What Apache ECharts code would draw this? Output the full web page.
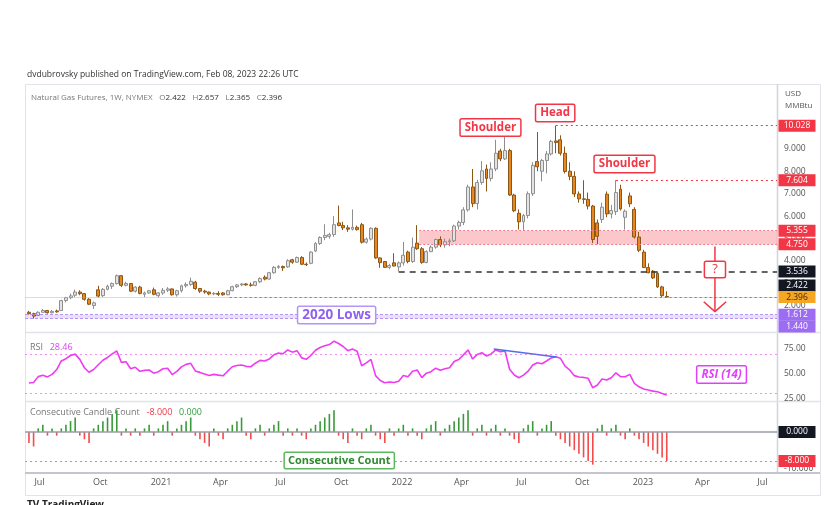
<!DOCTYPE html>
<html><head><meta charset="utf-8">
<script src="https://cdn.jsdelivr.net/npm/echarts@6/dist/echarts.min.js"></script>
<style>html,body{margin:0;padding:0;background:#fff}#c{width:831px;height:505px}</style>
</head><body><div id="c"></div>
<script>
// ---------- data ----------
const firstWeek = '2020-06-15';
const opens = [1.72,1.66,1.58,1.72,1.80,1.70,1.78,1.80,2.24,2.37,2.48,2.62,2.55,2.30,2.02,2.72,2.46,2.74,2.88,3.00,
3.35,2.92,3.00,2.66,2.84,2.52,2.58,2.72,2.46,2.58,2.70,2.76,2.50,2.68,2.90,2.96,3.06,2.78,2.66,2.62,
2.54,2.56,2.58,2.50,2.68,2.86,2.94,2.98,2.94,2.92,3.08,3.28,3.20,3.48,3.72,3.76,3.74,4.06,3.95,4.16,
3.86,3.90,4.45,4.78,5.05,5.10,5.18,5.70,5.58,5.48,5.42,5.50,5.62,4.84,4.98,5.46,4.14,3.98,3.72,3.92,
3.74,3.92,4.40,3.98,4.80,4.55,3.94,4.42,4.62,4.96,4.72,4.86,4.90,5.56,5.72,6.28,7.30,6.56,7.50,8.10,
7.68,8.10,8.90,8.55,8.92,6.94,6.13,5.75,6.03,7.00,8.43,8.00,8.48,8.77,9.35,9.40,8.80,8.00,7.77,6.99,
6.77,6.75,6.45,5.70,5.85,6.98,6.10,6.20,7.20,5.95,6.90,6.30,5.07,4.40,3.71,3.55,3.45,2.85,2.422];
const highs = [1.78,1.70,1.76,1.86,1.82,1.82,1.84,2.28,2.41,2.55,2.73,2.70,2.58,2.35,2.20,2.90,2.80,2.95,3.05,3.40,
3.38,3.08,3.02,2.88,2.90,2.64,2.72,2.82,2.62,2.80,2.84,2.78,2.72,2.95,3.05,3.26,3.12,2.80,2.72,2.64,
2.62,2.66,2.62,2.72,2.90,2.98,3.02,3.02,3.04,3.10,3.28,3.36,3.52,3.78,3.82,3.80,4.08,4.10,4.20,4.22,
3.94,4.44,4.84,5.10,5.64,5.26,6.00,6.47,5.75,5.60,6.30,5.58,5.70,5.05,5.50,5.50,4.16,4.00,3.88,4.35,
3.98,4.85,4.46,5.05,5.60,4.62,4.48,4.70,5.00,5.10,5.00,5.00,5.62,5.80,6.40,7.40,8.10,7.62,8.45,8.30,
8.40,9.40,9.00,9.66,9.00,7.00,6.30,6.10,7.10,8.40,9.75,8.55,8.90,9.40,10.028,9.60,9.10,8.40,8.00,7.10,
7.60,7.05,6.50,5.85,6.60,7.10,6.50,7.604,7.40,6.30,7.05,6.40,5.30,4.50,3.90,3.60,3.50,2.90,2.657];
const lows = [1.62,1.44,1.56,1.70,1.66,1.67,1.70,1.78,2.16,2.30,2.40,2.48,2.24,2.04,1.87,2.38,2.40,2.70,2.76,2.95,
2.85,2.88,2.62,2.60,2.52,2.40,2.55,2.48,2.38,2.50,2.62,2.46,2.42,2.60,2.82,2.90,2.72,2.58,2.55,2.48,
2.48,2.44,2.46,2.48,2.66,2.80,2.88,2.90,2.86,2.88,3.02,3.14,3.18,3.44,3.66,3.56,3.70,3.88,3.92,3.82,
3.78,3.86,4.40,4.72,4.93,5.00,5.08,5.55,5.38,5.30,5.36,5.36,4.78,4.78,4.92,4.10,3.70,3.70,3.64,3.76,
3.536,3.80,3.90,3.92,4.50,3.88,3.90,4.40,4.55,4.62,4.60,4.66,4.85,5.40,5.60,6.20,6.40,6.30,7.40,7.10,
7.55,8.00,8.45,8.50,6.90,6.18,5.40,5.36,5.90,6.90,8.00,7.55,7.90,8.70,8.80,8.70,7.90,7.60,6.85,6.60,
6.55,6.30,4.80,4.75,5.70,5.95,5.90,6.05,6.25,5.40,6.40,5.00,4.40,3.70,3.46,3.20,2.80,2.40,2.365];
const closes = [1.66,1.55,1.72,1.80,1.70,1.76,1.74,2.24,2.37,2.45,2.62,2.55,2.30,2.08,2.14,2.44,2.74,2.88,3.00,3.35,
2.92,3.00,2.66,2.84,2.56,2.58,2.68,2.52,2.58,2.70,2.76,2.50,2.68,2.90,2.96,3.10,2.78,2.66,2.62,2.54,
2.56,2.52,2.50,2.68,2.86,2.94,2.98,2.94,2.92,3.08,3.22,3.20,3.48,3.72,3.76,3.70,4.02,3.95,4.16,3.86,
3.84,4.40,4.78,5.05,5.14,5.18,5.62,5.58,5.48,5.42,5.50,5.40,4.84,4.98,5.46,4.14,3.93,3.72,3.80,3.78,
3.92,4.26,3.98,4.62,4.55,3.94,4.42,4.62,4.96,4.72,4.86,4.90,5.56,5.72,6.28,7.30,6.56,7.50,8.02,7.68,
8.10,8.80,8.55,8.92,6.94,6.24,5.75,6.03,7.00,8.26,8.20,8.48,8.77,9.33,9.28,8.80,7.99,7.77,6.99,6.77,
6.75,6.45,4.96,5.10,6.40,6.10,6.25,7.05,6.32,6.22,6.55,5.07,4.48,3.71,3.48,3.25,2.85,2.46,2.396];
const rsi = [40.5,41.0,47.0,48.4,46.7,49.3,54.2,62.9,65.2,68.4,69.8,64.5,56.0,51.4,54.2,59.0,63.6,66.4,70.1,73.0,
61.4,62.0,55.0,56.5,52.4,53.3,53.7,50.5,52.0,55.0,55.5,49.1,52.3,56.9,59.4,60.5,52.8,51.3,49.6,48.1,
49.3,48.5,47.8,52.5,57.0,58.3,58.8,57.4,57.0,60.6,63.5,62.8,64.9,69.1,70.9,70.2,74.0,71.8,73.3,66.0,
64.5,68.4,73.7,76.5,78.2,79.5,82.9,80.6,77.5,73.3,75.0,72.8,58.0,61.0,64.5,48.0,43.0,40.8,41.5,41.0,
42.4,48.1,46.9,52.5,53.7,46.0,50.5,52.0,55.5,53.5,55.0,56.0,62.3,64.3,69.0,74.0,64.8,69.5,71.2,67.9,
70.0,74.0,72.3,73.0,54.4,48.6,45.9,48.5,52.5,58.8,61.1,60.0,62.8,66.0,67.2,65.5,57.7,53.7,48.0,46.6,
46.2,45.3,35.7,38.5,44.5,43.5,45.9,50.9,46.9,46.9,49.3,40.2,36.7,34.5,33.4,32.3,31.7,30.0,28.46];
const counts = [-3,-4,1,2,-1,1,-1,1,2,3,4,-1,-2,-3,1,2,3,4,5,6,
-1,1,-1,1,-1,1,2,-1,1,2,3,-1,1,2,3,4,-1,-2,-3,-4,
1,-1,-2,1,2,3,4,-1,-2,1,2,-1,1,2,3,-1,1,-1,1,-1,
-2,1,2,3,4,5,6,-1,-2,-3,1,-1,-2,1,2,-1,-2,-3,1,-1,
1,2,-1,1,-1,-2,1,2,3,-1,1,2,3,4,5,6,-1,1,2,-1,
1,2,-1,1,-1,-2,-3,1,2,3,-1,1,2,3,-1,-2,-3,-4,-5,-6,
-7,-8,-9,1,2,-1,1,2,-1,-2,1,-1,-2,-3,-4,-5,-6,-7,-8];
const tickDates = ['2020-07-01','2020-10-01','2021-01-01','2021-04-01','2021-07-01','2021-10-01','2022-01-01','2022-04-01','2022-07-01','2022-10-01','2023-01-01','2023-04-01','2023-07-01'];
const tickLabels = ['Jul','Oct','2021','Apr','Jul','Oct','2022','Apr','Jul','Oct','2023','Apr','Jul'];
const priceTicks = [2,3,4,5,6,7,8,9,10];
const rsiTicks = [25,50,75];
const countTicks = [-10];
const priceTags = [
  {v:10.028,bg:'#f23645'},{v:7.604,bg:'#f23645'},{v:5.355,bg:'#f23645'},{v:4.750,bg:'#f23645'},
  {v:3.536,bg:'#131722'},{v:2.422,bg:'#131722',dy:-11},{v:2.396,bg:'#f5a623',fg:'#3a2a10'},
  {v:1.612,bg:'#9c6cf2'},{v:1.440,bg:'#9c6cf2',dy:8}];
const countTags = [{v:0,bg:'#131722'},{v:-8,bg:'#f23645'}];

// ---------- helpers ----------
const FONT = 'Open Sans';
function ts(s){const p=s.split('-').map(Number);return new Date(p[0],p[1]-1,p[2]).getTime();}
const fw = firstWeek.split('-').map(Number);
const weeks = opens.map((_,i)=>new Date(fw[0],fw[1]-1,fw[2]+7*i).getTime());
const xMin = ts('2020-06-09'), xMax = ts('2023-07-23');
const tickTs = tickDates.map(ts);

function xAx(i, show){
  return {type:'value', gridIndex:i, min:xMin, max:xMax, axisLine:{show:false}, axisTick:{show:false}, splitLine:{show:false},
    axisLabel: show ? {customValues:tickTs, margin:6, fontSize:9, fontFamily:FONT, color:'#555', showMinLabel:true, showMaxLabel:true,
      formatter:v=>{let k=-1; tickTs.forEach((t,j)=>{if(Math.abs(t-v)<43200000)k=j;}); return k<0?'':tickLabels[k];}} : {show:false}};
}
function yAx(i, min, max, ticks, dec){
  return {type:'value', gridIndex:i, position:'right', min, max, axisLine:{show:false}, axisTick:{show:false}, splitLine:{show:false},
    axisLabel:{customValues:ticks, margin:7, fontSize:8.5, fontFamily:FONT, color:'#555', formatter:v=>(+v).toFixed(dec)}};
}
function tagSeries(list, gi){
  return {type:'scatter', xAxisIndex:gi, yAxisIndex:gi, z:10, clip:false, silent:true, symbol:'rect', symbolSize:[37,12],
    data:list.map(t=>({value:[xMax,t.v], symbolOffset:[20,t.dy||0], itemStyle:{color:t.bg, opacity:1},
      label:{show:true, position:'inside', formatter:t.v.toFixed(3), color:t.fg||'#fff', opacity:1, fontSize:8.5, fontFamily:FONT}}))};
}
function hline(v, from, color, type, width){
  return [{coord:[from,v], lineStyle:{color, type, width}}, {coord:[xMax,v]}];
}
function note(x, v, text, color, extra){
  return {value:[x,v], label:Object.assign({show:true, position:'inside', formatter:text, color, opacity:1, fontFamily:FONT, fontSize:11.5,
    fontWeight:'bold', backgroundColor:'#fff', borderColor:color, borderWidth:1.5, borderRadius:1, padding:[2,4]}, extra||{})};
}
function noteSeries(gi, items){
  return {type:'scatter', xAxisIndex:gi, yAxisIndex:gi, z:8, silent:true, symbolSize:1, itemStyle:{color:'rgba(0,0,0,0)', opacity:1}, data:items};
}

const red = '#f23645';
const arrowX = ts('2023-04-20');
const arrowLine = [[arrowX,4.65],[arrowX,1.75]];
const arrowHead = [[ts('2023-04-03'),2.19],[arrowX,1.75],[ts('2023-05-07'),2.19]];

const chart = echarts.init(document.getElementById('c'), null, {renderer:'canvas'});
chart.setOption({
  animation:false,
  backgroundColor:'#fff',
  grid:[
    {left:25, width:752, top:85, height:247},
    {left:25, width:752, top:333, height:68},
    {left:25, width:752, top:402, height:70}
  ],
  xAxis:[xAx(0,false), xAx(1,false), xAx(2,true)],
  yAxis:[yAx(0,0.842,11.84,priceTicks,3), yAx(1,22.3,91.2,rsiTicks,2), yAx(2,-11.03,8.28,countTicks,3)],
  graphic:[
    {type:'rect', shape:{x:25.5,y:84.5,width:795,height:411}, style:{fill:'none', stroke:'#e0e3eb', lineWidth:1}, silent:true},
    {type:'line', shape:{x1:777.5,y1:84,x2:777.5,y2:473}, style:{stroke:'#d1d4dc', lineWidth:1.5}, silent:true},
    {type:'line', shape:{x1:25,y1:332.5,x2:820,y2:332.5}, style:{stroke:'#e0e3eb', lineWidth:1.5}, silent:true},
    {type:'line', shape:{x1:25,y1:401.5,x2:820,y2:401.5}, style:{stroke:'#e0e3eb', lineWidth:1.5}, silent:true},
    {type:'line', shape:{x1:25,y1:473,x2:820,y2:473}, style:{stroke:'#c3c6ce', lineWidth:2}, silent:true},
    {type:'text', left:27, top:70, silent:true, style:{text:'dvdubrovsky published on TradingView.com, Feb 08, 2023 22:26 UTC', font:'8.5px "Open Sans"', fill:'#333'}},
    {type:'text', left:31, top:92, silent:true, style:{text:'{a|Natural Gas Futures, 1W, NYMEX}  {a|O}{b|2.422}  {a|H}{b|2.657}  {a|L}{b|2.365}  {a|C}{b|2.396}',
      rich:{a:{fill:'#777', font:'8px "Open Sans"'}, b:{fill:'#333', font:'8px "Open Sans"'}}}},
    {type:'text', left:785, top:90, silent:true, style:{text:'USD', font:'8px "Open Sans"', fill:'#555'}},
    {type:'text', left:785, top:102, silent:true, style:{text:'MMBtu', font:'8px "Open Sans"', fill:'#555'}},
    {type:'text', left:30, top:341, silent:true, style:{text:'{a|RSI}  {b|28.46}', rich:{a:{fill:'#777', font:'9px "Open Sans"'}, b:{fill:'#e040fb', font:'9px "Open Sans"'}}}},
    {type:'text', left:30, top:406, silent:true, style:{text:'{a|Consecutive Candle Count}  {r|-8.000}  {g|0.000}', rich:{a:{fill:'#777', font:'9px "Open Sans"'}, r:{fill:'#f23645', font:'9px "Open Sans"'}, g:{fill:'#2e9e3e', font:'9px "Open Sans"'}}}},
    {type:'text', left:27, top:500, silent:true, style:{text:'TV TradingView', font:'bold 10px "Open Sans"', fill:'#222'}}
  ],
  series:[
    {type:'line', xAxisIndex:0, yAxisIndex:0, z:1, data:[], silent:true,
      markArea:{silent:true, data:[
        [{coord:[ts('2022-01-27'),5.355], itemStyle:{color:'rgba(242,54,69,0.28)'}},{coord:[xMax,4.75]}],
        [{coord:[xMin,1.612], itemStyle:{color:'rgba(156,108,242,0.22)'}},{coord:[xMax,1.44]}]
      ]},
      markLine:{silent:true, symbol:['none','none'], label:{show:false}, data:[
        hline(10.028, ts('2022-08-22'), red, [2,3], 1),
        hline(7.604, ts('2022-11-21'), red, [2,3], 1),
        hline(5.355, ts('2022-01-27'), '#f57a8c', [2,2], 1),
        hline(4.75, ts('2022-01-27'), '#f57a8c', [2,2], 1),
        hline(3.536, ts('2021-12-27'), '#333', [6,5], 1.5),
        hline(2.396, xMin, 'rgba(245,166,35,0.45)', 'solid', 1),
        hline(2.396, ts('2021-04-15'), '#a07a4a', [2,3], 1),
        hline(1.612, xMin, '#b594f7', [3,2], 1),
        hline(1.44, xMin, '#b594f7', [3,2], 1)
      ]}},
    {type:'candlestick', xAxisIndex:0, yAxisIndex:0, z:3, barWidth:3.4, silent:true,
      encode:{x:0, y:[1,2,3,4]},
      data:weeks.map((t,i)=>[t,opens[i],closes[i],lows[i],highs[i]]),
      itemStyle:{color:'#e3e3e3', color0:'#e8871e', borderColor:'#8e8e8e', borderColor0:'#8c5716', borderWidth:1}},
    {type:'line', xAxisIndex:0, yAxisIndex:0, z:5, data:arrowLine, symbol:'none', silent:true, lineStyle:{color:red, width:1.5}},
    {type:'line', xAxisIndex:0, yAxisIndex:0, z:5, data:arrowHead, symbol:'none', silent:true, lineStyle:{color:red, width:1.5}},
    noteSeries(0, [
      note(ts('2022-05-15'), 9.95, 'Shoulder', red),
      note(ts('2022-08-21'), 10.59, 'Head', red),
      note(ts('2022-12-04'), 8.32, 'Shoulder', red),
      note(ts('2021-09-24'), 1.60, '2020 Lows', '#9060f0', {fontSize:13.5, borderColor:'#b594f7', padding:[1,4]}),
      note(arrowX, 3.62, '?', red, {fontSize:13, fontWeight:'normal', padding:[1,7]})
    ]),
    tagSeries(priceTags, 0),
    {type:'line', xAxisIndex:1, yAxisIndex:1, z:3, symbol:'none', silent:true,
      data:weeks.map((t,i)=>[t,rsi[i]]), lineStyle:{color:'#ef3cf0', width:1.6},
      markLine:{silent:true, symbol:['none','none'], label:{show:false}, data:[
        hline(70, xMin, 'rgba(235,70,240,0.6)', [2,3], 1.2),
        hline(30, xMin, 'rgba(235,70,240,0.6)', [2,3], 1.2)
      ]}},
    {type:'line', xAxisIndex:1, yAxisIndex:1, z:4, symbol:'none', silent:true,
      data:[[ts('2022-05-20'),75],[ts('2022-08-23'),67]], lineStyle:{color:'#4a72e8', width:1.5}},
    noteSeries(1, [note(ts('2023-04-30'), 49.1, 'RSI (14)', '#e040fb', {fontStyle:'italic'})]),
    {type:'bar', xAxisIndex:2, yAxisIndex:2, z:3, barWidth:1.6, silent:true,
      data:weeks.map((t,i)=>({value:[t,counts[i]], itemStyle:{color:counts[i]>=0?'#3a9a3a':'#f44a4a'}})),
      markLine:{silent:true, symbol:['none','none'], label:{show:false}, data:[
        hline(0, xMin, '#9a9da6', 'solid', 1.5),
        hline(-8, xMin, '#f77c8a', [2,3], 1)
      ]}},
    noteSeries(2, [note(ts('2021-09-28'), -7.86, 'Consecutive Count', '#2e8b2e', {fontSize:11, padding:[2,3], borderColor:'#5cb85c'})]),
    tagSeries(countTags, 2)
  ]
});
</script></body></html>
